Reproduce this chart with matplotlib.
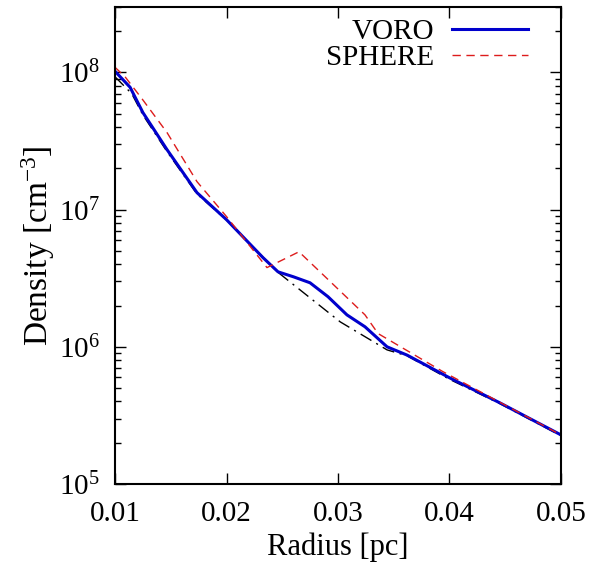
import matplotlib
matplotlib.use("Agg")
import matplotlib.pyplot as plt
from matplotlib.ticker import LogLocator, NullFormatter, FixedLocator

plt.rcParams['font.family'] = ['Liberation Serif', 'DejaVu Serif']
plt.rcParams['mathtext.fontset'] = 'custom'
plt.rcParams['mathtext.rm'] = 'Liberation Serif'
plt.rcParams['mathtext.it'] = 'Liberation Serif:italic'

# VORO profile
voro_r = [0.0100, 0.01135, 0.0125, 0.01466, 0.01735, 0.0200, 0.02327, 0.02462,
          0.0260, 0.02749, 0.0291, 0.0308, 0.03242, 0.0344, 0.0362, 0.0400,
          0.04453, 0.0500]
voro_d = [1.02e8, 7.8e7, 5.1e7, 2.74e7, 1.33e7, 8.45e6, 4.47e6, 3.52e6,
          3.24e6, 2.93e6, 2.32e6, 1.71e6, 1.40e6, 1.0e6, 8.7e5, 5.95e5,
          3.9e5, 2.28e5]

# SPHERE profile
sph_r = [0.0100, 0.0109, 0.0125, 0.01466, 0.01735, 0.0200, 0.02363, 0.0265,
         0.0291, 0.03242, 0.03359, 0.0394, 0.0445, 0.0500]
sph_d = [1.09e8, 9.3e7, 6.3e7, 3.65e7, 1.6e7, 8.9e6, 3.78e6, 4.93e6,
         3.1e6, 1.71e6, 1.25e6, 6.6e5, 3.95e5, 2.28e5]

# reference (unlabelled dash-dot)
ref_r = [0.0100, 0.0115, 0.0125, 0.01466, 0.01735, 0.0200, 0.02327, 0.0246,
         0.0302, 0.0344, 0.0362, 0.0400, 0.04453, 0.0500]
ref_d = [9.3e7, 7.0e7, 4.9e7, 2.65e7, 1.3e7, 8.4e6, 4.5e6, 3.5e6,
         1.52e6, 9.5e5, 8.6e5, 5.8e5, 3.85e5, 2.25e5]

fig = plt.figure(figsize=(5.92, 5.73), dpi=100)
ax = fig.add_axes([0.1943, 0.1553, 0.7533, 0.8325])

ax.plot(ref_r, ref_d, color='black', lw=1.0, dashes=(9, 4, 1.5, 4))
ax.plot(voro_r, voro_d, color='#0000cc', lw=2.2, label='VORO')
ax.plot(sph_r, sph_d, color='#dd1c1c', lw=1.0, dashes=(6, 4), label='SPHERE')

ax.set_yscale('log')
ax.set_xlim(0.01, 0.05)
ax.set_ylim(1e5, 3e8)
ax.xaxis.set_major_locator(FixedLocator([0.01, 0.02, 0.03, 0.04, 0.05]))
ax.set_xticklabels(['0.01', '0.02', '0.03', '0.04', '0.05'])
ax.yaxis.set_major_locator(FixedLocator([1e5, 1e6, 1e7, 1e8]))
ax.set_yticklabels([r'10$^{5}$', r'10$^{6}$', r'10$^{7}$', r'10$^{8}$'])
ax.yaxis.set_minor_locator(LogLocator(base=10, subs=range(2, 10)))
ax.yaxis.set_minor_formatter(NullFormatter())

ax.tick_params(which='both', direction='in', top=True, right=True,
               labelsize=21, width=1.0)
ax.tick_params(axis='x', which='major', length=8, pad=12)
ax.tick_params(axis='y', which='major', length=8, pad=11)
ax.tick_params(which='minor', length=4)
for s in ax.spines.values():
    s.set_linewidth(1.5)

ax.set_xlabel('Radius [pc]', fontsize=22, labelpad=4)
ax.set_ylabel(r'Density [cm$^{-3}$]', fontsize=24, labelpad=1)

leg = ax.legend(loc='upper right', fontsize=21, frameon=False,
                markerfirst=False, handlelength=2.6, handletextpad=0.6,
                borderaxespad=0.0, labelspacing=0.0,
                bbox_to_anchor=(0.952, 1.0))
for t in leg.get_texts():
    t.set_ha('right')

fig.savefig('out.png', dpi=100)
